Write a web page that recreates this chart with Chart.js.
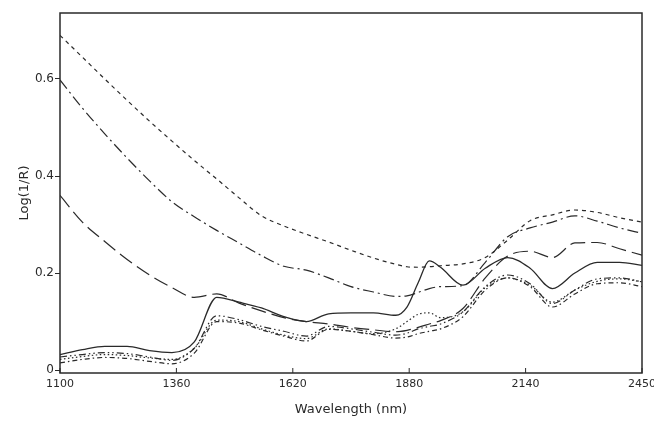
<!DOCTYPE html>
<html>
<head>
<meta charset="utf-8">
<script src="https://cdn.jsdelivr.net/npm/chart.js@4"></script>
<style>
  html, body { margin: 0; padding: 0; background: #fff; }
  #wrap { width: 654px; height: 429px; }
</style>
</head>
<body>
<div id="wrap"><canvas id="spectraChart"></canvas></div>
<script>
// wavelength grid (nm, as plotted)
const wavelengths = [1100, 1150, 1200, 1250, 1300, 1350, 1400, 1450, 1500, 1550, 1600, 1650, 1700, 1750, 1800, 1850, 1875, 1900, 1925, 1950, 2000, 2050, 2100, 2150, 2200, 2250, 2300, 2350, 2400];

const shortDash = [0.690, 0.645, 0.600, 0.556, 0.513, 0.472, 0.432, 0.394, 0.355, 0.318, 0.297, 0.280, 0.264, 0.247, 0.231, 0.218, 0.213, 0.212, 0.213, 0.215, 0.219, 0.232, 0.268, 0.308, 0.320, 0.330, 0.325, 0.314, 0.305];
const dashDot = [0.598, 0.540, 0.487, 0.437, 0.390, 0.347, 0.316, 0.288, 0.262, 0.236, 0.214, 0.206, 0.190, 0.172, 0.161, 0.152, 0.153, 0.160, 0.168, 0.172, 0.174, 0.222, 0.275, 0.293, 0.305, 0.318, 0.307, 0.293, 0.282];
const longDash = [0.360, 0.305, 0.265, 0.228, 0.196, 0.170, 0.150, 0.157, 0.138, 0.122, 0.108, 0.100, 0.095, 0.088, 0.083, 0.079, 0.082, 0.088, 0.095, 0.102, 0.127, 0.190, 0.235, 0.245, 0.232, 0.262, 0.263, 0.250, 0.237];
const solid = [0.032, 0.042, 0.049, 0.049, 0.040, 0.036, 0.058, 0.150, 0.140, 0.128, 0.110, 0.100, 0.116, 0.118, 0.118, 0.113, 0.130, 0.180, 0.225, 0.212, 0.175, 0.210, 0.232, 0.210, 0.168, 0.200, 0.222, 0.222, 0.216];
const dotted = [0.022, 0.028, 0.032, 0.030, 0.025, 0.022, 0.045, 0.103, 0.100, 0.085, 0.072, 0.065, 0.085, 0.080, 0.075, 0.085, 0.100, 0.115, 0.118, 0.108, 0.120, 0.170, 0.190, 0.175, 0.140, 0.165, 0.183, 0.188, 0.182];
const dashDotDot = [0.027, 0.032, 0.036, 0.034, 0.027, 0.020, 0.045, 0.112, 0.104, 0.090, 0.080, 0.070, 0.090, 0.085, 0.078, 0.072, 0.076, 0.085, 0.090, 0.095, 0.120, 0.172, 0.196, 0.178, 0.137, 0.165, 0.188, 0.190, 0.182];
const dashDotShort = [0.015, 0.022, 0.026, 0.024, 0.018, 0.013, 0.035, 0.100, 0.097, 0.083, 0.070, 0.060, 0.084, 0.080, 0.073, 0.066, 0.068, 0.075, 0.080, 0.085, 0.110, 0.165, 0.190, 0.172, 0.130, 0.157, 0.178, 0.180, 0.172];

const xTickValues = [1100, 1360, 1620, 1880, 2140, 2400];
const xTickLabels = ['1100', '1360', '1620', '1880', '2140', '2450'];
const yTickValues = [0, 0.2, 0.4, 0.6];

const ink = '#2a2a2a';
const font = { family: 'DejaVu Sans', size: 12 };

function series(values, dash, width) {
    return {
        data: wavelengths.map((w, i) => ({ x: w, y: values[i] })),
        borderColor: ink,
        borderWidth: width || 1.2,
        borderDash: dash,
        pointRadius: 0,
        fill: false,
        cubicInterpolationMode: 'monotone'
    };
}

// frame round the plot + inward x ticks
const framePlugin = {
    id: 'frame',
    afterDraw(chart) {
        const { ctx, chartArea: a, scales } = chart;
        ctx.save();
        ctx.strokeStyle = ink;
        ctx.lineWidth = 1.5;
        ctx.strokeRect(a.left, a.top, a.right - a.left, a.bottom - a.top);
        ctx.lineWidth = 1;
        xTickValues.forEach(v => {
            const px = scales.x.getPixelForValue(v);
            ctx.beginPath();
            ctx.moveTo(px, a.bottom);
            ctx.lineTo(px, a.bottom - 5);
            ctx.stroke();
        });
        ctx.restore();
    }
};

const ctx = document.getElementById('spectraChart').getContext('2d');
new Chart(ctx, {
    type: 'line',
    data: {
        datasets: [
            series(shortDash, [4, 4]),
            series(dashDot, [11, 4, 2, 4]),
            series(longDash, [15, 6]),
            series(solid, [], 1.3),
            series(dotted, [1.5, 2.5]),
            series(dashDotDot, [7, 3, 1.5, 3, 1.5, 3]),
            series(dashDotShort, [5, 3, 1.5, 3])
        ]
    },
    options: {
        responsive: true,
        maintainAspectRatio: false,
        animation: false,
        layout: { padding: { top: 13, right: 12, bottom: 12, left: 17 } },
        plugins: {
            legend: { display: false },
            tooltip: { enabled: false }
        },
        scales: {
            x: {
                type: 'linear',
                min: 1100,
                max: 2400,
                afterBuildTicks: scale => { scale.ticks = xTickValues.map(v => ({ value: v })); },
                afterFit: scale => {
                    scale.height = 44;
                    scale.paddingLeft = 0;
                    scale.paddingRight = 0;
                },
                grid: { display: false, drawTicks: false },
                border: { display: false },
                ticks: {
                    color: ink,
                    font: { family: 'DejaVu Sans', size: 11 },
                    padding: 5,
                    maxRotation: 0,
                    callback: (v) => xTickLabels[xTickValues.indexOf(v)]
                },
                title: {
                    display: true,
                    text: 'Wavelength (nm)',
                    color: ink,
                    font: { family: 'DejaVu Sans', size: 13 },
                    padding: { top: 8, bottom: 0 }
                }
            },
            y: {
                min: -0.006,
                max: 0.736,
                afterBuildTicks: scale => { scale.ticks = yTickValues.map(v => ({ value: v })); },
                afterFit: scale => {
                    scale.width = 43;
                    scale.paddingTop = 0;
                    scale.paddingBottom = 0;
                },
                grid: { drawOnChartArea: false, tickLength: 5, color: ink },
                border: { display: false },
                ticks: {
                    color: ink,
                    font: font,
                    padding: 1,
                    callback: (v) => v === 0 ? '0' : v.toFixed(1)
                },
                title: {
                    display: true,
                    text: 'Log(1/R)',
                    color: ink,
                    font: { family: 'DejaVu Sans', size: 13 },
                    padding: { top: 0, bottom: 2 }
                }
            }
        }
    },
    plugins: [framePlugin]
});
</script>
</body>
</html>
